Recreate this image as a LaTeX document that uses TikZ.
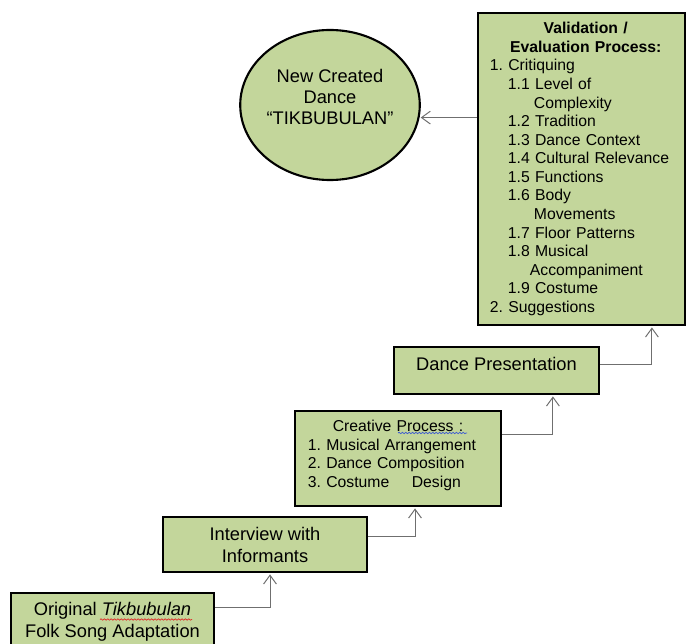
\documentclass[tikz,border=0pt]{standalone}
\usepackage{fontspec}
\setmainfont{Liberation Sans}
\frenchspacing
\usetikzlibrary{arrows.meta,calc,positioning,shapes.geometric,decorations.pathmorphing}
\definecolor{StageGreen}{HTML}{C3D69B}
\definecolor{LinkGray}{HTML}{6F6F6F}
\definecolor{SpellRed}{HTML}{E02828}
\definecolor{SpellBlue}{HTML}{3C5AD2}
\tikzset{
  stage/.style={
    draw=black, line width=1.8pt, fill=StageGreen, inner sep=0pt,
    align=center, font=\fontsize{13}{15.6}\selectfont
  },
  listbox/.style={
    stage, align=left, font=\fontsize{11.2}{13.2}\selectfont
  },
  result/.style={
    ellipse, draw=black, line width=1.5pt, fill=StageGreen, inner sep=0pt,
    align=center, font=\fontsize{13}{15}\selectfont
  },
  link/.style={-{Straight Barb[length=2.2mm,width=3.2mm]}, draw=LinkGray, line width=0.7pt, shorten >=0.8pt},
  spell/.style={decorate, decoration={snake, amplitude=0.5pt, segment length=2.4pt}, line width=0.5pt}
}

\begin{document}
\begin{tikzpicture}[x=0.025cm,y=-0.025cm]
    \useasboundingbox[fill=white] (0,0) rectangle (686,644);
    \node[stage,minimum width=5.075cm,minimum height=1.425cm] (orig) at (112.5,621.5) {Original \textit{Tikbubulan}\\Folk Song Adaptation};
    \node[stage,minimum width=5.1cm,minimum height=1.375cm] (inter) at (265,544.5) {Interview with\\Informants};
    \node[listbox,minimum width=5.15cm,minimum height=2.375cm,text width=4.5cm,text depth=46.3pt] (creat) at (398,458.5)
      {\makebox[\linewidth]{Creative Process :}\\
       1. Musical Arrangement\\
       2. Dance Composition\\
       3. Costume\hspace{16pt}Design};
    \node[stage,minimum width=5.125cm,minimum height=1.175cm,text depth=10pt] (dance) at (496.5,370.5) {Dance Presentation};
    \node[listbox,minimum width=5.175cm,minimum height=7.8cm,text width=4.575cm] (valid) at (581.5,169)
      {\makebox[\linewidth]{\hspace*{6pt}\bfseries Validation /}\\
       \makebox[\linewidth]{\hspace*{6pt}\bfseries Evaluation Process:}\\
       1. Critiquing\\
       \hspace*{12.8pt}1.1 Level of\\
       \hspace*{31.3pt}Complexity\\
       \hspace*{12.8pt}1.2 Tradition\\
       \hspace*{12.8pt}1.3 Dance Context\\
       \hspace*{12.8pt}1.4 Cultural Relevance\\
       \hspace*{12.8pt}1.5 Functions\\
       \hspace*{12.8pt}1.6 Body\\
       \hspace*{31.3pt}Movements\\
       \hspace*{12.8pt}1.7 Floor Patterns\\
       \hspace*{12.8pt}1.8 Musical\\
       \hspace*{28.4pt}Accompaniment\\
       \hspace*{12.8pt}1.9 Costume\\
       2. Suggestions};
    \node[result,minimum width=4.225cm,minimum height=3.75cm,text depth=11.4pt] (newdance) at (330,105) {New Created\\Dance\\“TIKBUBULAN”};
    % steps
    \draw[link] ([yshift=0.34cm]orig.east) -| ([xshift=0.125cm]inter.south);
    \draw[link] ([yshift=0.19cm]inter.east) -| ([xshift=0.425cm]creat.south);
    \draw[link] ([yshift=0.59cm]creat.east) -| ([xshift=1.41cm]dance.south);
    \draw[link] ([yshift=0.14cm]dance.east) -| ([xshift=1.76cm]valid.south);
    \draw[link] (valid.west |- newdance.-8) -- (newdance.-8);
    % spell check marks
    \draw[spell,SpellRed] (100,619.5) -- (192,619.5);
    \draw[spell,SpellBlue] (398,433) -- (467,433);
  \end{tikzpicture}
\end{document}
